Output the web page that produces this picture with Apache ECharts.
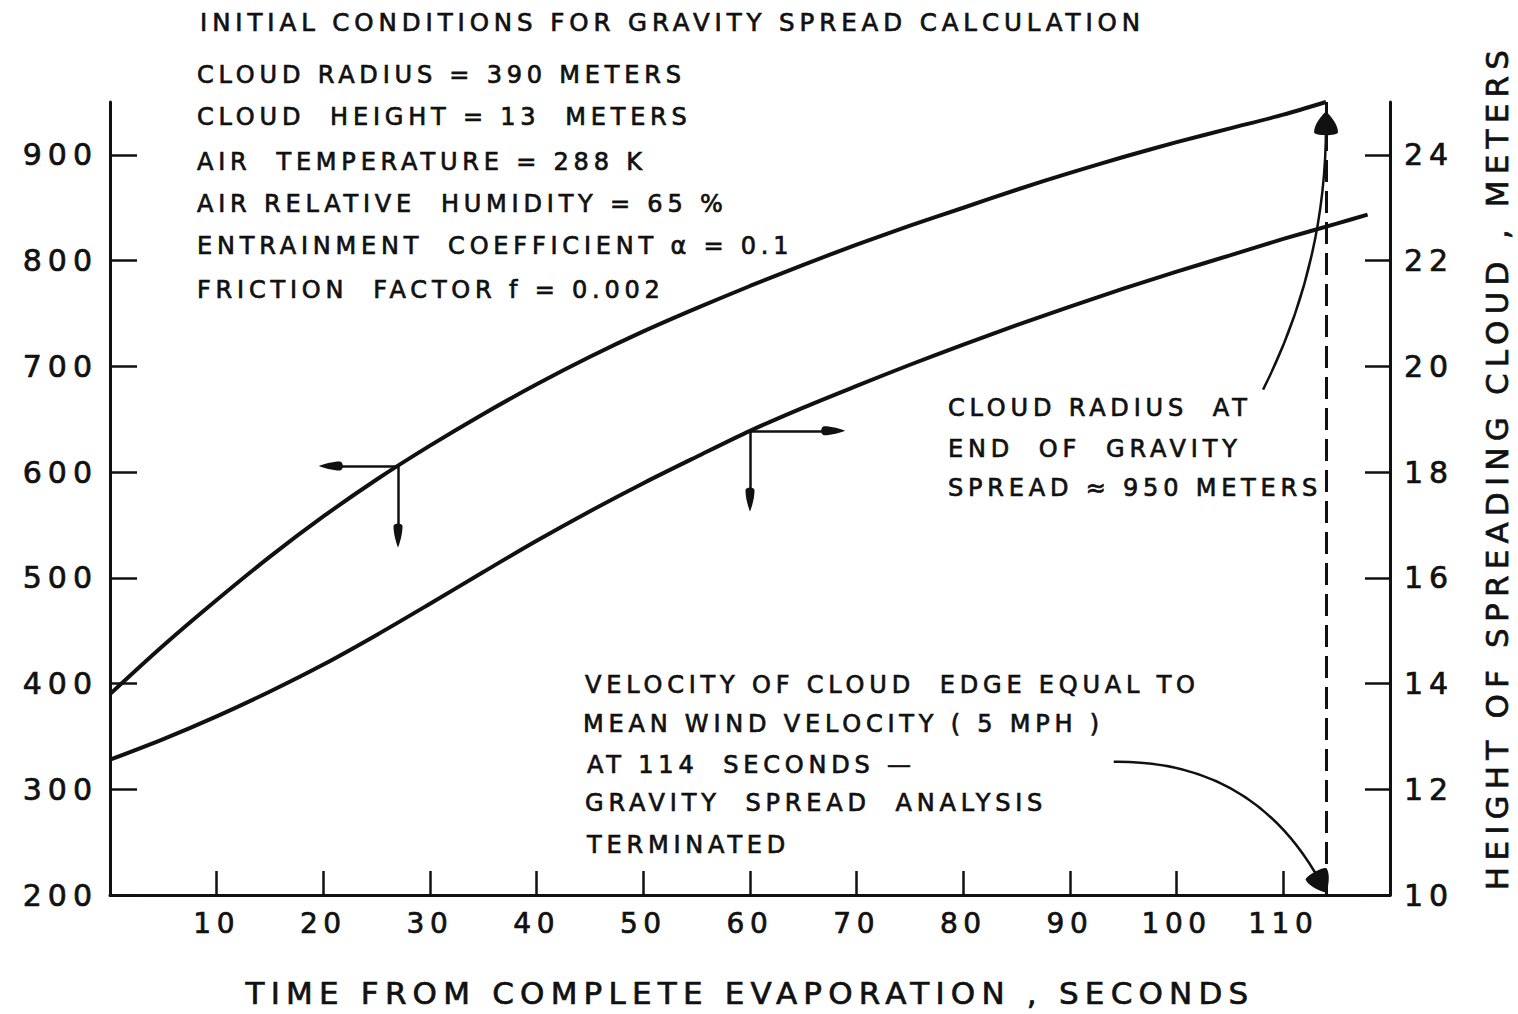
<!DOCTYPE html>
<html>
<head>
<meta charset="utf-8">
<script src="https://cdn.jsdelivr.net/npm/echarts@6/dist/echarts.min.js"></script>
<style>
  html, body { margin: 0; padding: 0; background: #fff; }
  #chart { width: 1518px; height: 1014px; }
  /* wide, heavy drafting-style lettering */
  #chart text { letter-spacing: 0.2em; stroke: #111 !important; stroke-width: 0.7px !important; }
</style>
</head>
<body>
<div id="chart"></div>
<script>
// Cloud radius (m, left axis) during gravity spread
const radiusTime = [0, 5, 10, 15, 20, 25, 30, 35, 40, 45, 50, 55, 60, 65, 70, 75, 80, 85, 90, 95, 100, 105, 110, 114];
const radiusM    = [390, 436, 479, 520, 558, 593, 625, 655, 683, 709, 733, 755, 776, 796, 815, 833, 850, 867, 883, 898, 912, 925, 938, 950];

// Height of the spreading cloud (m, right axis)
const heightTime = [0, 5, 10, 15, 20, 25, 30, 35, 40, 45, 50, 55, 60, 65, 70, 75, 80, 85, 90, 95, 100, 105, 110, 115, 117.9];
const heightM    = [12.56, 12.95, 13.38, 13.85, 14.36, 14.92, 15.51, 16.11, 16.70, 17.26, 17.79, 18.29, 18.78, 19.22, 19.63, 20.03, 20.41, 20.78, 21.13, 21.47, 21.79, 22.10, 22.41, 22.70, 22.87];

// Axis tick values
const timeTicks   = [10, 20, 30, 40, 50, 60, 70, 80, 90, 100, 110];
const radiusTicks = [200, 300, 400, 500, 600, 700, 800, 900];
const heightTicks = [10, 12, 14, 16, 18, 20, 22, 24];

// End of the gravity spread analysis (s)
const endTime = [114];

// Read-off arrows: [time on curve, horizontal arrow end (s), vertical arrow end (axis units)]
const radiusReadout = [27, 20.7, 540];
const heightReadout = [60, 67.8, 17.48];

// Curved leader arrows (time s, radius-axis m): [start, end]
const leaderRadius = [[108.1, 678], [114, 930]];
const leaderEnd    = [[94.1, 326], [113.5, 212]];

function interp(xs, ys, x) {
  for (let i = 1; i < xs.length; i++) {
    if (x <= xs[i]) {
      const f = (x - xs[i - 1]) / (xs[i] - xs[i - 1]);
      return ys[i - 1] + f * (ys[i] - ys[i - 1]);
    }
  }
  return ys[ys.length - 1];
}

const ink = '#111';
const FONT = 'DejaVu Sans';
const arrowHead = 'path://M5,0 C7,5 10,14 10,22 C10,26 0,26 0,22 C0,14 3,5 5,0 Z';

const rT = radiusReadout[0], rV = interp(radiusTime, radiusM, rT);
const hT = heightReadout[0], hV = interp(heightTime, heightM, hT);

// Text blocks: [text, x, y, font size]
const notes = [
  ['INITIAL CONDITIONS FOR GRAVITY SPREAD CALCULATION', 200, 22, 24.5],
  ['CLOUD RADIUS = 390 METERS', 197, 75, 24],
  ['CLOUD  HEIGHT = 13  METERS', 197, 117, 24],
  ['AIR  TEMPERATURE = 288 K', 197, 162, 24],
  ['AIR RELATIVE  HUMIDITY = 65 %', 197, 204, 24],
  ['ENTRAINMENT  COEFFICIENT α = 0.1', 197, 246, 24],
  ['FRICTION  FACTOR f = 0.002', 197, 290, 24],
  ['CLOUD RADIUS  AT', 948, 408, 24],
  ['END  OF  GRAVITY', 948, 449, 24],
  ['SPREAD ≈ 950 METERS', 948, 488, 24],
  ['VELOCITY OF CLOUD  EDGE EQUAL TO', 585, 685, 24],
  ['MEAN WIND VELOCITY ( 5 MPH )', 583, 724, 24],
  ['AT 114  SECONDS —', 587, 765, 24],
  ['GRAVITY  SPREAD  ANALYSIS', 585, 803, 24],
  ['TERMINATED', 587, 845, 24]
];

const chart = echarts.init(document.getElementById('chart'), null, { renderer: 'svg' });

const labelStyle = { fontFamily: FONT, color: ink };

chart.setOption({
  animation: false,
  backgroundColor: '#fff',
  grid: { left: 110, right: 128, top: 102, bottom: 119 },
  xAxis: {
    type: 'value', min: 0, max: 120, interval: 10,
    name: 'TIME FROM COMPLETE EVAPORATION , SECONDS',
    nameLocation: 'middle', nameGap: 82,
    nameTextStyle: { fontFamily: FONT, fontSize: 31, color: ink },
    axisLine: { show: true, onZero: false, lineStyle: { color: ink, width: 3 } },
    axisTick: { show: true, inside: true, length: 24, customValues: timeTicks, lineStyle: { color: ink, width: 2.5 } },
    axisLabel: Object.assign({ customValues: timeTicks, margin: 14, fontSize: 28 }, labelStyle),
    splitLine: { show: false }
  },
  yAxis: [
    {
      type: 'value', position: 'left', min: 200, max: 950, interval: 100,
      axisLine: { show: true, onZero: false, lineStyle: { color: ink, width: 3 } },
      axisTick: { show: true, inside: true, length: 27, customValues: radiusTicks, lineStyle: { color: ink, width: 2.5 } },
      axisLabel: Object.assign({ customValues: radiusTicks, margin: 12, fontSize: 30 }, labelStyle),
      splitLine: { show: false }
    },
    {
      type: 'value', position: 'right', min: 10, max: 25, interval: 2,
      axisLine: { show: true, onZero: false, lineStyle: { color: ink, width: 3 } },
      axisTick: { show: true, inside: true, length: 25, customValues: heightTicks, lineStyle: { color: ink, width: 2.5 } },
      axisLabel: Object.assign({ customValues: heightTicks, margin: 14, fontSize: 30 }, labelStyle),
      splitLine: { show: false }
    }
  ],
  series: [
    {
      name: 'Cloud radius', type: 'line', xAxisIndex: 0, yAxisIndex: 0,
      data: radiusTime.map((t, i) => [t, radiusM[i]]),
      smooth: 0.3, symbol: 'none', silent: true,
      lineStyle: { color: ink, width: 4 },
      markLine: {
        silent: true, animation: false,
        symbol: ['none', arrowHead], symbolSize: [9, 24],
        label: { show: false },
        lineStyle: { color: ink, width: 2.5, type: 'solid' },
        data: [
          [{ coord: [rT, rV] }, { coord: [radiusReadout[1], rV] }],
          [{ coord: [rT, rV] }, { coord: [rT, radiusReadout[2]] }],
          [
            { coord: [endTime[0], radiusTicks[0]], symbol: 'none', lineStyle: { type: [22, 9], width: 3, color: ink } },
            { coord: [endTime[0], radiusM[radiusM.length - 1]], symbol: 'none' }
          ]
        ]
      }
    },
    {
      name: 'Cloud height', type: 'line', xAxisIndex: 0, yAxisIndex: 1,
      data: heightTime.map((t, i) => [t, heightM[i]]),
      smooth: 0.3, symbol: 'none', silent: true,
      lineStyle: { color: ink, width: 4 },
      markLine: {
        silent: true, animation: false,
        symbol: ['none', arrowHead], symbolSize: [9, 24],
        label: { show: false },
        lineStyle: { color: ink, width: 2.5, type: 'solid' },
        data: [
          [{ coord: [hT, hV] }, { coord: [heightReadout[1], hV] }],
          [{ coord: [hT, hV] }, { coord: [hT, heightReadout[2]] }]
        ]
      }
    },
    {
      type: 'lines', coordinateSystem: 'cartesian2d', xAxisIndex: 0, yAxisIndex: 0,
      silent: true, symbol: ['none', arrowHead], symbolSize: [8, 24],
      lineStyle: { color: ink, width: 2.5, opacity: 1 },
      data: [
        { coords: leaderRadius, lineStyle: { curveness: -0.12 } },
        { coords: leaderEnd, lineStyle: { curveness: 0.3 } }
      ]
    }
  ],
  graphic: notes.map(n => ({
    type: 'text', x: n[1], y: n[2], silent: true,
    style: { text: n[0], font: n[3] + 'px "' + FONT + '"', fill: ink, align: 'left', verticalAlign: 'middle' }
  })).concat([{
    type: 'text', x: 1497, y: 467, rotation: Math.PI / 2, silent: true,
    style: { text: 'HEIGHT OF SPREADING CLOUD , METERS', font: '31px "' + FONT + '"', fill: ink, align: 'center', verticalAlign: 'middle' }
  }])
});
</script>
</body>
</html>
